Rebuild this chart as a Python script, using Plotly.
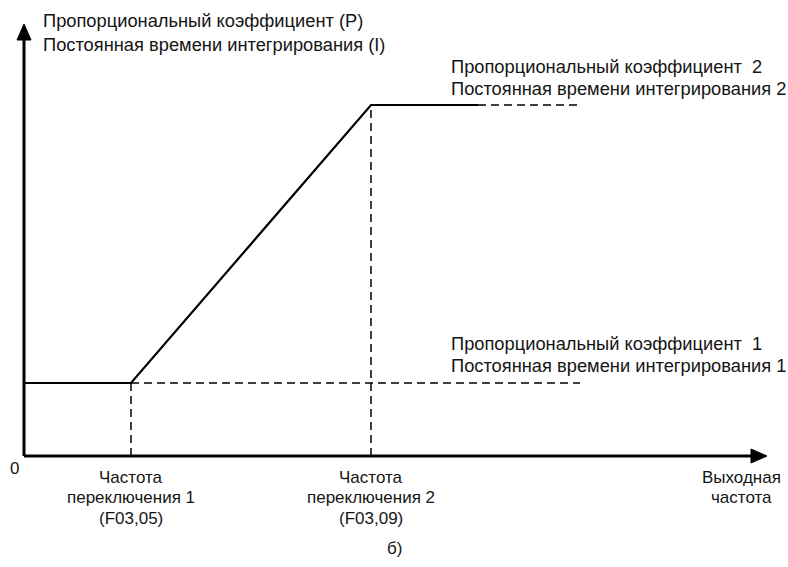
import plotly.graph_objects as go

# Output-frequency breakpoints (switching frequencies F03.05 and F03.09)
freq_switch = [107, 347]
freq_end_solid = 454
freq_end_dashed = 556
axis_x_max = 743

# PI parameter levels (set 1 below switching freq 1, set 2 above switching freq 2)
level_1 = 73
level_2 = 351
axis_y_max = 432

solid_x = [0, freq_switch[0], freq_switch[1], freq_end_solid]
solid_y = [level_1, level_1, level_2, level_2]

switch_labels = [["Частота", "переключения 1", "(F03,05)"],
                 ["Частота", "переключения 2", "(F03,09)"]]
y_label = ["Пропорциональный коэффициент (P)", "Постоянная времени интегрирования (I)"]
x_label = ["Выходная", "частота"]
level_labels = [["Пропорциональный коэффициент  1", "Постоянная времени интегрирования 1"],
                ["Пропорциональный коэффициент  2", "Постоянная времени интегрирования 2"]]
caption = "б)"

INK = "#000000"
TXT = "#151515"
FAMILY = "Liberation Sans, Arial, sans-serif"
DASH = "8px,5px"

fig = go.Figure()


def seg(xs, ys, width, dash="solid"):
    fig.add_trace(go.Scatter(x=xs, y=ys, mode="lines",
                             line=dict(color=INK, width=width, dash=dash),
                             hoverinfo="skip", showlegend=False))


# dashed guide lines
seg([freq_switch[0], freq_end_dashed], [level_1, level_1], 1.5, DASH)
seg([freq_end_solid, freq_end_dashed], [level_2, level_2], 1.5, DASH)
seg([freq_switch[0], freq_switch[0]], [0, level_1], 1.5, DASH)
seg([freq_switch[1], freq_switch[1]], [0, level_2], 1.5, DASH)

# PI parameter curve
seg(solid_x, solid_y, 2.2)

# axes
seg([0, axis_x_max - 12], [0, 0], 3)
seg([0, 0], [0, axis_y_max - 12], 3)

# arrow heads
head_len, head_half = 16, 7
fig.add_trace(go.Scatter(
    x=[axis_x_max, axis_x_max - head_len, axis_x_max - head_len, axis_x_max],
    y=[0, head_half, -head_half, 0], mode="lines", fill="toself",
    fillcolor=INK, line=dict(color=INK, width=1), hoverinfo="skip", showlegend=False))
fig.add_trace(go.Scatter(
    x=[0, -head_half, head_half, 0],
    y=[axis_y_max, axis_y_max - head_len, axis_y_max - head_len, axis_y_max],
    mode="lines", fill="toself",
    fillcolor=INK, line=dict(color=INK, width=1), hoverinfo="skip", showlegend=False))

ann = []


def text_block(x, y_first, lines, step, size, anchor):
    # one annotation per line so the line pitch is fixed in axis units
    for i, t in enumerate(lines):
        ann.append(dict(x=x, y=y_first - i * step, text=t, xanchor=anchor,
                        yanchor="middle", font=dict(family=FAMILY, size=size, color=TXT)))


text_block(-10, -12, ["0"], 0, 17, "center")
text_block(17, 436, y_label, 24, 18.3, "left")
text_block(425, level_2 + 39, level_labels[1], 22, 18.3, "left")
text_block(425, level_1 + 40, level_labels[0], 22, 18.3, "left")
for f, lines in zip(freq_switch, switch_labels):
    text_block(f, -21, lines, 20.5, 17, "center")
text_block(717, -21, x_label, 20.5, 17, "center")
text_block(370, -92, [caption], 0, 17, "center")
for a in ann:
    a.update(xref="x", yref="y", showarrow=False)

fig.update_layout(
    width=788, height=567,
    margin=dict(l=0, r=0, t=0, b=0),
    paper_bgcolor="white", plot_bgcolor="white",
    xaxis=dict(range=[-24, 764], visible=False, fixedrange=True),
    yaxis=dict(range=[-111, 456], visible=False, fixedrange=True),
    annotations=ann,
    showlegend=False,
)

fig.write_html("out.html")
